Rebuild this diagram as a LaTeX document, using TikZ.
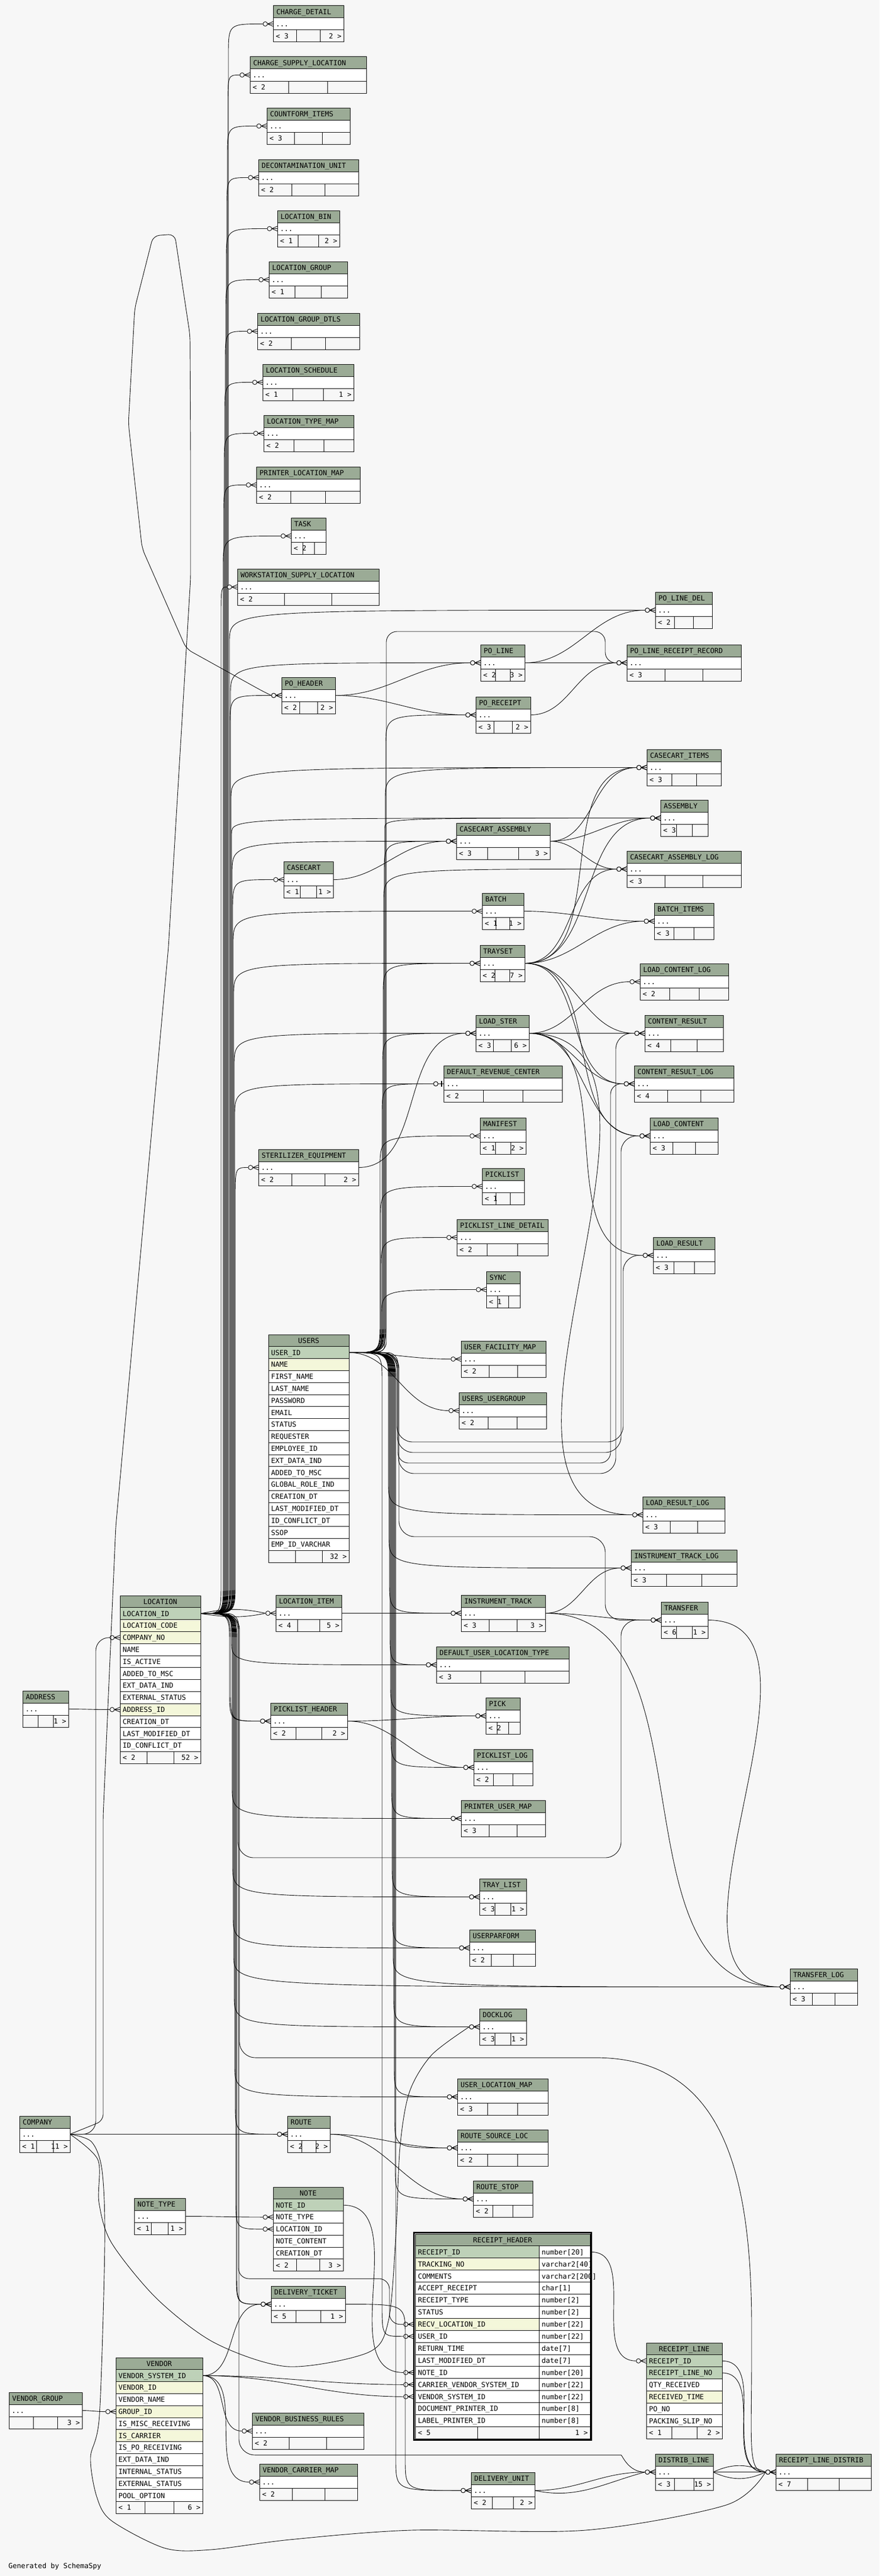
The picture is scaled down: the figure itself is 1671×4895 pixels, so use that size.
\documentclass[tikz,border=0pt]{standalone}
\usepackage{fontspec}
\newfontfamily\tfont{DejaVu Sans Mono}
\usetikzlibrary{calc}
\definecolor{bgc}{HTML}{F7F7F7}
\definecolor{hdr}{HTML}{9BAB96}
\definecolor{keyc}{HTML}{BED1B8}
\definecolor{fkc}{HTML}{F4F7DA}
\pgfdeclarelayer{bgl}
\pgfdeclarelayer{edges}
\pgfsetlayers{bgl,edges,main}
\tikzset{
  tx/.style={inner sep=0pt, text height=9.7pt, text depth=0pt, font=\tfont\fontsize{13.3}{15}\selectfont},
  rel/.style={draw=black, line width=0.9pt},
  box/.style={draw=black, line width=1pt},
}
\newlength\fwA
\newlength\fwC
% compact table: name x1 y1 x2 footer1 footer3
\newcommand\ctable[6]{%
  \settowidth\fwA{\tfont\fontsize{13.3}{15}\selectfont #5}%
  \settowidth\fwC{\tfont\fontsize{13.3}{15}\selectfont #6}%
  \pgfmathsetmacro\wA{max((#4-#2)/3,\fwA+9)}%
  \if\relax\detokenize{#6}\relax \pgfmathsetmacro\wC{(#4-#2-\wA)/2}\else \pgfmathsetmacro\wC{max((#4-#2)/3,\fwC+9)}\fi
  \path[box,fill=hdr] (#2,#3) rectangle (#4,#3+23);
  \path[box,fill=white] (#2,#3+23) rectangle (#4,#3+46);
  \path[box] (#2,#3+46) rectangle (#4,#3+69);
  \draw[box] (#2+\wA,#3+46) -- (#2+\wA,#3+69);
  \draw[box] (#4-\wC,#3+46) -- (#4-\wC,#3+69);
  \node[tx,anchor=west] at (#2+6,#3+11.5) {#1};
  \node[tx,anchor=west] at (#2+5,#3+34.5) {...};
  \node[tx,anchor=west] at (#2+5,#3+57.5) {#5};
  \node[tx,anchor=east] at (#4-4,#3+57.5) {#6};
  \node[inner sep=0pt,minimum width={(#4-#2)*1pt},minimum height=69pt,anchor=north west] (#1) at (#2,#3) {};
  \coordinate (#1-w) at (#2,#3+34.5);
  \coordinate (#1-e) at (#4,#3+34.5);
  \coordinate (#1-in) at (#2-19.5,#3+34.5);
}
% detailed table: name x1 y1 x2 rows N footer1 footer3
\newcommand\dtable[8]{%
  \path[box,fill=hdr] (#2,#3) rectangle (#4,#3+22.8);
  \node[tx] at ({(#2+#4)/2},#3+11.4) {#1};
  \foreach \nm/\rc [count=\ri] in {#5}{%
    \path[box,fill=\rc] (#2,{#3+22.8*\ri}) rectangle (#4,{#3+22.8*\ri+22.8});
    \node[tx,anchor=west] at (#2+5,{#3+22.8*\ri+11.4}) {\nm};
    \coordinate (#1-r\ri-w) at (#2,{#3+22.8*\ri+11.4});
    \coordinate (#1-r\ri-e) at (#4,{#3+22.8*\ri+11.4});
    \coordinate (#1-r\ri-in) at (#2-19.5,{#3+22.8*\ri+11.4});
  }
  \path[box] (#2,{#3+22.8*(#6+1)}) rectangle (#4,{#3+22.8*(#6+2)});
  \draw[box] ({#2+(#4-#2)/3},{#3+22.8*(#6+1)}) -- ({#2+(#4-#2)/3},{#3+22.8*(#6+2)});
  \draw[box] ({#2+2*(#4-#2)/3},{#3+22.8*(#6+1)}) -- ({#2+2*(#4-#2)/3},{#3+22.8*(#6+2)});
  \node[tx,anchor=west] at (#2+5,{#3+22.8*(#6+1.5)}) {#7};
  \node[tx,anchor=east] at (#4-4,{#3+22.8*(#6+1.5)}) {#8};
  \node[inner sep=0pt,minimum width={(#4-#2)*1pt},minimum height={22.8*(#6+2)*1pt},anchor=north west] (#1) at (#2,#3) {};
  \coordinate (#1-e) at (#1-r1-e);
}
% markers
\newcommand\mkc[1]{%
  \draw[rel] ($(#1-w)+(-11,0)$) -- ($(#1-w)+(0,-4.5)$) ($(#1-w)+(-11,0)$) -- (#1-w) ($(#1-w)+(-11,0)$) -- ($(#1-w)+(0,4.5)$);
  \draw[rel,fill=bgc] ($(#1-w)+(-15,0)$) circle[radius=4.2pt];
}
\newcommand\mkone[1]{%
  \draw[line width=2pt] ($(#1-w)+(-4,-5.5)$) -- ($(#1-w)+(-4,5.5)$);
  \draw[rel] ($(#1-w)+(-11,0)$) -- (#1-w);
  \draw[rel,fill=bgc] ($(#1-w)+(-15,0)$) circle[radius=4.2pt];
}
% connectors: up / down through a vertical bundle at x = b<bx>
\newcommand\Uppath[4]{\draw[rel] (#2) .. controls (b#3 |- #2) .. ($(b#3 |- #2)+(0,-#1)$) -- ($(b#3 |- #4-in)+(0,#1)$) .. controls (b#3 |- #4-in) .. (#4-in);}
\newcommand\Dnpath[4]{\draw[rel] (#2) .. controls (b#3 |- #2) .. ($(b#3 |- #2)+(0,#1)$) -- ($(b#3 |- #4-in)+(0,-#1)$) .. controls (b#3 |- #4-in) .. (#4-in);}
\newcommand\Up[4][60]{\Uppath{#1}{#2}{#3}{#4}\mkc{#4}}
\newcommand\UpOne[4][60]{\Uppath{#1}{#2}{#3}{#4}\mkone{#4}}
\newcommand\Dn[4][60]{\Dnpath{#1}{#2}{#3}{#4}\mkc{#4}}
\newcommand\Cv[2]{\draw[rel] (#1) to[out=0,in=180] (#2-in); \mkc{#2}}
\newcommand\Gap[6][30]{\draw[rel,rounded corners=#1pt] (#2) -| (b#3 |- y#4) -| (b#5 |- #6-in) -- (#6-in); \mkc{#6}}

\begin{document}
\catcode`\_=12
\begin{tikzpicture}[x=1pt,y=-1pt]
\useasboundingbox (0,0) rectangle (1671,4895);
\begin{pgfonlayer}{bgl}
\fill[bgc] (0,0) rectangle (1671,4895);
\end{pgfonlayer}
\foreach \x in {150,...,1200} {\coordinate (b\x) at (\x,0);}
\foreach \y in {1200,2740,2760,2780,2800,2920,3530,3910,4330,4665} {\coordinate (y\y) at (0,\y);}

% ---------- tables ----------
\ctable{CHARGE_DETAIL}{519}{11}{653}{< 3}{2 >}
\ctable{CHARGE_SUPPLY_LOCATION}{475}{108}{696}{< 2}{}
\ctable{COUNTFORM_ITEMS}{507}{205}{665}{< 3}{}
\ctable{DECONTAMINATION_UNIT}{491}{303}{681}{< 2}{}
\ctable{LOCATION_BIN}{527}{400}{645}{< 1}{2 >}
\ctable{LOCATION_GROUP}{511}{497}{660}{< 1}{}
\ctable{LOCATION_GROUP_DTLS}{489}{595}{683}{< 2}{}
\ctable{LOCATION_SCHEDULE}{499}{692}{672}{< 1}{1 >}
\ctable{LOCATION_TYPE_MAP}{501}{789}{672}{< 2}{}
\ctable{PRINTER_LOCATION_MAP}{487}{887}{684}{< 2}{}
\ctable{TASK}{553}{984}{619}{< 2}{}
\ctable{WORKSTATION_SUPPLY_LOCATION}{451}{1081}{720}{< 2}{}
\ctable{PO_HEADER}{535}{1287}{637}{< 2}{2 >}
\ctable{CASECART}{539}{1637}{633}{< 1}{1 >}
\ctable{STERILIZER_EQUIPMENT}{491}{2184}{681}{< 2}{2 >}
\ctable{ADDRESS}{43}{3213}{130}{}{1 >}
\ctable{LOCATION_ITEM}{524}{3031}{649}{< 4}{5 >}
\ctable{PICKLIST_HEADER}{514}{3236}{660}{< 2}{2 >}
\ctable{COMPANY}{37}{4021}{133}{< 1}{11 >}
\ctable{ROUTE}{546}{4021}{627}{< 2}{2 >}
\ctable{NOTE_TYPE}{255}{4177}{352}{< 1}{1 >}
\ctable{DELIVERY_TICKET}{515}{4344}{656}{< 5}{1 >}
\ctable{VENDOR_GROUP}{17}{4546}{156}{}{3 >}
\ctable{VENDOR_BUSINESS_RULES}{479}{4585}{691}{< 2}{}
\ctable{VENDOR_CARRIER_MAP}{493}{4682}{679}{< 2}{}
\ctable{PO_LINE}{913}{1225}{997}{< 2}{3 >}
\ctable{PO_RECEIPT}{904}{1324}{1008}{< 3}{2 >}
\ctable{CASECART_ASSEMBLY}{867}{1564}{1045}{< 3}{3 >}
\ctable{BATCH}{916}{1697}{995}{< 1}{1 >}
\ctable{TRAYSET}{912}{1796}{997}{< 2}{7 >}
\ctable{LOAD_STER}{904}{1929}{1005}{< 3}{6 >}
\ctable{DEFAULT_REVENUE_CENTER}{843}{2025}{1068}{< 2}{}
\ctable{MANIFEST}{912}{2124}{999}{< 1}{2 >}
\ctable{PICKLIST}{916}{2220}{996}{< 1}{}
\ctable{PICKLIST_LINE_DETAIL}{868}{2317}{1041}{< 2}{}
\ctable{SYNC}{924}{2416}{988}{< 1}{}
\ctable{USER_FACILITY_MAP}{876}{2548}{1037}{< 2}{}
\ctable{USERS_USERGROUP}{872}{2646}{1038}{< 2}{}
\ctable{INSTRUMENT_TRACK}{876}{3031}{1036}{< 3}{3 >}
\ctable{DEFAULT_USER_LOCATION_TYPE}{829}{3129}{1081}{< 3}{}
\ctable{PICK}{923}{3226}{988}{< 2}{}
\ctable{PICKLIST_LOG}{900}{3324}{1012}{< 2}{}
\ctable{PRINTER_USER_MAP}{876}{3421}{1036}{< 3}{}
\ctable{TRAY_LIST}{911}{3570}{1000}{< 3}{1 >}
\ctable{USERPARFORM}{892}{3667}{1017}{< 2}{}
\ctable{DOCKLOG}{911}{3817}{1000}{< 3}{1 >}
\ctable{USER_LOCATION_MAP}{869}{3950}{1041}{< 3}{}
\ctable{ROUTE_SOURCE_LOC}{869}{4047}{1041}{< 2}{}
\ctable{ROUTE_STOP}{899}{4144}{1012}{< 2}{}
\ctable{DELIVERY_UNIT}{895}{4698}{1016}{< 2}{2 >}
\ctable{PO_LINE_DEL}{1245}{1125}{1353}{< 2}{}
\ctable{PO_LINE_RECEIPT_RECORD}{1191}{1225}{1408}{< 3}{}
\ctable{CASECART_ITEMS}{1229}{1424}{1370}{< 3}{}
\ctable{ASSEMBLY}{1255}{1520}{1345}{< 3}{}
\ctable{CASECART_ASSEMBLY_LOG}{1191}{1617}{1408}{< 3}{}
\ctable{BATCH_ITEMS}{1243}{1716}{1356}{< 3}{}
\ctable{LOAD_CONTENT_LOG}{1216}{1831}{1384}{< 2}{}
\ctable{CONTENT_RESULT}{1225}{1929}{1374}{< 4}{}
\ctable{CONTENT_RESULT_LOG}{1205}{2025}{1394}{< 4}{}
\ctable{LOAD_CONTENT}{1235}{2124}{1364}{< 3}{}
\ctable{LOAD_RESULT}{1241}{2351}{1358}{< 3}{}
\ctable{LOAD_RESULT_LOG}{1221}{2844}{1377}{< 3}{}
\ctable{INSTRUMENT_TRACK_LOG}{1199}{2945}{1400}{< 3}{}
\ctable{TRANSFER}{1256}{3044}{1345}{< 6}{1 >}
\ctable{DISTRIB_LINE}{1245}{4663}{1355}{< 3}{15 >}
\ctable{TRANSFER_LOG}{1501}{3741}{1629}{< 3}{}
\ctable{RECEIPT_LINE_DISTRIB}{1474}{4663}{1655}{< 7}{}

\dtable{USERS}{510}{2536}{663}{USER_ID/keyc,NAME/fkc,FIRST_NAME/white,LAST_NAME/white,PASSWORD/white,EMAIL/white,STATUS/white,REQUESTER/white,EMPLOYEE_ID/white,EXT_DATA_IND/white,ADDED_TO_MSC/white,GLOBAL_ROLE_IND/white,CREATION_DT/white,LAST_MODIFIED_DT/white,ID_CONFLICT_DT/white,SSOP/white,EMP_ID_VARCHAR/white}{17}{}{32 >}
\dtable{LOCATION}{228}{3032}{381}{LOCATION_ID/keyc,LOCATION_CODE/fkc,COMPANY_NO/fkc,NAME/white,IS_ACTIVE/white,ADDED_TO_MSC/white,EXT_DATA_IND/white,EXTERNAL_STATUS/white,ADDRESS_ID/fkc,CREATION_DT/white,LAST_MODIFIED_DT/white,ID_CONFLICT_DT/white}{12}{< 2}{52 >}
\dtable{NOTE}{519}{4156}{652}{NOTE_ID/keyc,NOTE_TYPE/white,LOCATION_ID/white,NOTE_CONTENT/white,CREATION_DT/white}{5}{< 2}{3 >}
\dtable{VENDOR}{220}{4480}{385}{VENDOR_SYSTEM_ID/keyc,VENDOR_ID/fkc,VENDOR_NAME/white,GROUP_ID/fkc,IS_MISC_RECEIVING/white,IS_CARRIER/fkc,IS_PO_RECEIVING/white,EXT_DATA_IND/white,INTERNAL_STATUS/white,EXTERNAL_STATUS/white,POOL_OPTION/white}{11}{< 1}{6 >}
\dtable{RECEIPT_LINE}{1228}{4452}{1372}{RECEIPT_ID/keyc,RECEIPT_LINE_NO/keyc,QTY_RECEIVED/white,RECEIVED_TIME/fkc,PO_NO/white,PACKING_SLIP_NO/white}{6}{< 1}{2 >}

% RECEIPT_HEADER (full columns)
\path[box,fill=hdr] (789,4245) rectangle (1121,4267.9);
\node[tx] at (955,4256.45) {RECEIPT_HEADER};
\foreach \nm/\ty/\rc [count=\ri] in {RECEIPT_ID/{number[20]}/keyc, TRACKING_NO/{varchar2[40]}/fkc, COMMENTS/{varchar2[200]}/white, ACCEPT_RECEIPT/{char[1]}/white, RECEIPT_TYPE/{number[2]}/white, STATUS/{number[2]}/white, RECV_LOCATION_ID/{number[22]}/fkc, USER_ID/{number[22]}/white, RETURN_TIME/{date[7]}/white, LAST_MODIFIED_DT/{date[7]}/white, NOTE_ID/{number[20]}/white, CARRIER_VENDOR_SYSTEM_ID/{number[22]}/white, VENDOR_SYSTEM_ID/{number[22]}/white, DOCUMENT_PRINTER_ID/{number[8]}/white, LABEL_PRINTER_ID/{number[8]}/white}{
  \path[box,fill=\rc] (789,{4245+22.9*\ri}) rectangle (1024,{4245+22.9*\ri+22.9});
  \path[box,fill=white] (1024,{4245+22.9*\ri}) rectangle (1121,{4245+22.9*\ri+22.9});
  \node[tx,anchor=west] at (794,{4245+22.9*\ri+11.45}) {\nm};
  \node[tx,anchor=west] at (1029,{4245+22.9*\ri+11.45}) {\ty};
  \coordinate (RECEIPT_HEADER-r\ri-w) at (786,{4245+22.9*\ri+11.45});
  \coordinate (RECEIPT_HEADER-r\ri-in) at (766.5,{4245+22.9*\ri+11.45});
}
\path[box] (789,4611.4) rectangle (1121,4634.3);
\draw[box] (907,4611.4) -- (907,4634.3);
\draw[box] (1024,4611.4) -- (1024,4634.3);
\node[tx,anchor=west] at (794,4622.85) {< 5};
\node[tx,anchor=east] at (1117,4622.85) {1 >};
\draw[line width=3pt] (786.5,4242.5) rectangle (1123.5,4636.8);
\node[inner sep=0pt,minimum width=337pt,minimum height=394pt,anchor=north west] (RECEIPT_HEADER) at (786.5,4242.5) {};
\coordinate (RECEIPT_HEADER-e) at (1123.5,4279.35);

\node[tx,anchor=west] (gen) at (16,4876) {Generated by SchemaSpy};

% ---------- connectors ----------
\begin{pgfonlayer}{edges}
% LOCATION -> top group
\Up{LOCATION-e}{434}{CHARGE_DETAIL}
\Up{LOCATION-e}{433}{CHARGE_SUPPLY_LOCATION}
\Up{LOCATION-e}{432}{COUNTFORM_ITEMS}
\Up{LOCATION-e}{431}{DECONTAMINATION_UNIT}
\Up{LOCATION-e}{430}{LOCATION_BIN}
\Up{LOCATION-e}{429}{LOCATION_GROUP}
\Up{LOCATION-e}{428}{LOCATION_GROUP_DTLS}
\Up{LOCATION-e}{427}{LOCATION_SCHEDULE}
\Up{LOCATION-e}{426}{LOCATION_TYPE_MAP}
\Up{LOCATION-e}{425}{PRINTER_LOCATION_MAP}
\Up{LOCATION-e}{424}{TASK}
\Up{LOCATION-e}{420}{WORKSTATION_SUPPLY_LOCATION}
% LOCATION -> upper middle
\Up{LOCATION-e}{436}{PO_LINE_DEL}
\Up{LOCATION-e}{437}{PO_HEADER}
\Up{LOCATION-e}{438}{PO_LINE}
\Up{LOCATION-e}{439}{CASECART_ITEMS}
\Up[30]{LOCATION-e}{440}{ASSEMBLY}
\Up{LOCATION-e}{441}{CASECART_ASSEMBLY}
\Up{LOCATION-e}{442}{CASECART}
\Up{LOCATION-e}{443}{BATCH}
\Up{LOCATION-e}{444}{TRAYSET}
\Up{LOCATION-e}{445}{LOAD_STER}
\UpOne{LOCATION-e}{446}{DEFAULT_REVENUE_CENTER}
\Up{LOCATION-e}{447}{STERILIZER_EQUIPMENT}
% LOCATION -> lower
\draw[rel] (LOCATION-e) to[out=12,in=168] (LOCATION_ITEM-in);
\draw[rel] (LOCATION-e) to[out=-8,in=192] (LOCATION_ITEM-in);
\mkc{LOCATION_ITEM}
\Dn{LOCATION-e}{436}{PICKLIST_HEADER}
\Dn{LOCATION-e}{438}{PICKLIST_HEADER}
\Dn[45]{LOCATION-e}{440}{DEFAULT_USER_LOCATION_TYPE}
\Dn{LOCATION-e}{441}{PRINTER_USER_MAP}
\Dn{LOCATION-e}{442}{TRAY_LIST}
\Dn{LOCATION-e}{443}{USERPARFORM}
\Dn{LOCATION-e}{444}{TRANSFER_LOG}
\Dn{LOCATION-e}{445}{DOCKLOG}
\Dn{LOCATION-e}{446}{USER_LOCATION_MAP}
\Dn{LOCATION-e}{447}{ROUTE}
\Dn{LOCATION-e}{448}{NOTE-r3}
\Dn{LOCATION-e}{449}{DELIVERY_TICKET}
\Dn{LOCATION-e}{450}{DELIVERY_TICKET}
\Gap{LOCATION-e}{452}{3530}{1180}{TRANSFER}
\Gap[20]{LOCATION-e}{453}{4330}{740}{RECEIPT_HEADER-r7}
\draw[rel,rounded corners=30pt] (LOCATION-e) -| (b454 |- y4665) -- (1150,4665) to[out=0,in=180] (DISTRIB_LINE-in);
\mkc{DISTRIB_LINE}
\draw[rel,rounded corners=30pt] (LOCATION-e) -| (b455 |- y3910) -- (1100,3910) .. controls (1360,3910) and (1428,4100) .. (1428,4450) .. controls (1428,4650) and (1420,4697.5) .. (RECEIPT_LINE_DISTRIB-in);
\mkc{RECEIPT_LINE_DISTRIB}
% USERS -> upward
\Up{USERS-e}{722}{MANIFEST}
\Up{USERS-e}{723}{PICKLIST}
\Up{USERS-e}{724}{PICKLIST_LINE_DETAIL}
\Up[50]{USERS-e}{725}{SYNC}
\UpOne{USERS-e}{726}{DEFAULT_REVENUE_CENTER}
\Up{USERS-e}{727}{LOAD_STER}
\Up{USERS-e}{728}{TRAYSET}
\Up{USERS-e}{729}{CASECART_ASSEMBLY_LOG}
\Up{USERS-e}{730}{CASECART_ASSEMBLY}
\Up[20]{USERS-e}{731}{ASSEMBLY}
\Up{USERS-e}{732}{CASECART_ITEMS}
\Up{USERS-e}{733}{PO_RECEIPT}
\Gap[20]{USERS-e}{734}{1200}{1150}{PO_LINE_RECEIPT_RECORD}
\Cv{USERS-e}{USER_FACILITY_MAP}
\Cv{USERS-e}{USERS_USERGROUP}
% USERS -> downward
\Dn{USERS-e}{738}{LOAD_RESULT_LOG}
\Dn{USERS-e}{739}{INSTRUMENT_TRACK_LOG}
\Dn{USERS-e}{740}{INSTRUMENT_TRACK}
\Dn{USERS-e}{741}{DEFAULT_USER_LOCATION_TYPE}
\Dn{USERS-e}{742}{PICK}
\Dn{USERS-e}{743}{PICKLIST_LOG}
\Dn{USERS-e}{744}{PRINTER_USER_MAP}
\Dn{USERS-e}{745}{TRAY_LIST}
\Dn{USERS-e}{746}{USERPARFORM}
\Dn{USERS-e}{747}{TRANSFER_LOG}
\Dn{USERS-e}{748}{DOCKLOG}
\Dn{USERS-e}{749}{USER_LOCATION_MAP}
\Dn{USERS-e}{750}{ROUTE_SOURCE_LOC}
\Dn{USERS-e}{751}{ROUTE_STOP}
\Dn{USERS-e}{726}{RECEIPT_HEADER-r8}
\Dn{USERS-e}{752}{DELIVERY_UNIT}
\Gap{USERS-e}{754}{2740}{1184}{LOAD_RESULT}
\Gap{USERS-e}{755}{2760}{1180}{LOAD_CONTENT}
\Gap[20]{USERS-e}{756}{2780}{1160}{CONTENT_RESULT_LOG}
\Gap{USERS-e}{757}{2800}{1170}{CONTENT_RESULT}
\Gap{USERS-e}{758}{2920}{1150}{TRANSFER}
% purchase orders
\Cv{PO_HEADER-e}{PO_LINE}
\Cv{PO_HEADER-e}{PO_RECEIPT}
\Cv{PO_LINE-e}{PO_LINE_DEL}
\Cv{PO_LINE-e}{PO_LINE_RECEIPT_RECORD}
\Cv{PO_RECEIPT-e}{PO_LINE_RECEIPT_RECORD}
% case carts, trays, loads
\Cv{CASECART-e}{CASECART_ASSEMBLY}
\Cv{CASECART_ASSEMBLY-e}{CASECART_ITEMS}
\Cv{CASECART_ASSEMBLY-e}{ASSEMBLY}
\Cv{CASECART_ASSEMBLY-e}{CASECART_ASSEMBLY_LOG}
\Cv{BATCH-e}{BATCH_ITEMS}
\Cv{TRAYSET-e}{CASECART_ITEMS}
\Cv{TRAYSET-e}{ASSEMBLY}
\Cv{TRAYSET-e}{CASECART_ASSEMBLY_LOG}
\Cv{TRAYSET-e}{BATCH_ITEMS}
\Cv{TRAYSET-e}{CONTENT_RESULT}
\Cv{TRAYSET-e}{CONTENT_RESULT_LOG}
\Cv{TRAYSET-e}{LOAD_CONTENT}
\Cv{LOAD_STER-e}{LOAD_CONTENT_LOG}
\Cv{LOAD_STER-e}{CONTENT_RESULT}
\Cv{LOAD_STER-e}{CONTENT_RESULT_LOG}
\Cv{LOAD_STER-e}{LOAD_CONTENT}
\Cv{LOAD_STER-e}{LOAD_RESULT}
\Cv{LOAD_STER-e}{LOAD_RESULT_LOG}
\Cv{STERILIZER_EQUIPMENT-e}{LOAD_STER}
% instruments, picks, transfers
\Cv{LOCATION_ITEM-e}{INSTRUMENT_TRACK}
\Cv{PICKLIST_HEADER-e}{PICK}
\Cv{PICKLIST_HEADER-e}{PICKLIST_LOG}
\Cv{INSTRUMENT_TRACK-e}{INSTRUMENT_TRACK_LOG}
\Cv{INSTRUMENT_TRACK-e}{TRANSFER}
\Cv{INSTRUMENT_TRACK-e}{TRANSFER_LOG}
\Cv{TRANSFER-e}{TRANSFER_LOG}
% routes, notes, vendors, receipts
\Cv{COMPANY-e}{ROUTE}
\Cv{ROUTE-e}{ROUTE_SOURCE_LOC}
\Cv{ROUTE-e}{ROUTE_STOP}
\Cv{NOTE-e}{RECEIPT_HEADER-r11}
\Cv{NOTE_TYPE-e}{NOTE-r2}
\Cv{ADDRESS-e}{LOCATION-r9}
\Cv{VENDOR_GROUP-e}{VENDOR-r4}
\Cv{VENDOR-e}{DELIVERY_TICKET}
\Cv{VENDOR-e}{RECEIPT_HEADER-r12}
\Cv{VENDOR-e}{RECEIPT_HEADER-r13}
\Cv{VENDOR-e}{VENDOR_BUSINESS_RULES}
\Cv{VENDOR-e}{VENDOR_CARRIER_MAP}
\Cv{RECEIPT_HEADER-e}{RECEIPT_LINE-r1}
\Cv{RECEIPT_LINE-r1-e}{RECEIPT_LINE_DISTRIB}
\Cv{RECEIPT_LINE-r2-e}{RECEIPT_LINE_DISTRIB}
\Cv{DISTRIB_LINE-e}{RECEIPT_LINE_DISTRIB}
\draw[rel] (DISTRIB_LINE-e) to[out=25,in=155] (RECEIPT_LINE_DISTRIB-in);
\draw[rel] (DISTRIB_LINE-e) to[out=-25,in=205] (RECEIPT_LINE_DISTRIB-in);
\Cv{DELIVERY_UNIT-e}{DISTRIB_LINE}
\draw[rel] (DELIVERY_UNIT-e) to[out=-12,in=195] (DISTRIB_LINE-in);
\Dn{DELIVERY_TICKET-e}{770}{DELIVERY_UNIT}
% COMPANY long routes
\draw[rel,rounded corners=25pt] (COMPANY-e) -| (b182 |- LOCATION-r3-in) -- (LOCATION-r3-in);
\mkc{LOCATION-r3}
\draw[rel,rounded corners=12pt] (COMPANY-e) -- (196,4030) -- (196,3450) -- (220,2900) -- (320,1800) -- (344,1400) -- (362,1100) -- (362,868) -- (361,637) -- (332,445) -- (291,448) -- (256,586) -- (244,805) -- (270,1042) -- (354,1233) -- (500,1314) -- (PO_HEADER-in);
\mkc{PO_HEADER}
\draw[rel] plot[smooth,tension=0.5] coordinates {(COMPANY-e) (174,4070) (194,4125) (199,4266) (189,4589) (172,4670) (184,4745) (212,4790) (313,4842) (400,4845) (550,4826) (780,4808) (1112,4808) (1380,4760) (RECEIPT_LINE_DISTRIB-in)};
\draw[rel] plot[smooth,tension=0.5] coordinates {(COMPANY-e) (186,4104) (188,4185) (212,4262) (298,4368) (408,4452) (547,4497) (700,4470) (738,4410) (752,4250) (760,4080) (778,3975) (820,3905) (DOCKLOG-in)};
\end{pgfonlayer}
\end{tikzpicture}
\end{document}
